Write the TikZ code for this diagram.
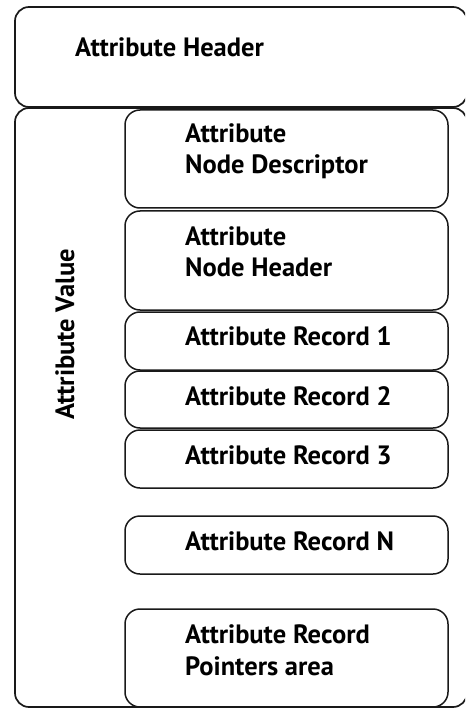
\documentclass[tikz,border=0pt]{standalone}
\usepackage{fontspec}
\setmainfont{PT Sans}
\begin{document}
\begin{tikzpicture}[x=1pt,y=-1pt,
  frame/.style={draw=black!90, line width=1.7pt, rounded corners=14pt},
  cell/.style={draw=black!90, line width=1.5pt, rounded corners=15pt},
  lbl/.style={font=\bfseries\fontsize{26.5}{31.5}\selectfont, inner sep=0pt, anchor=base west, align=left}]
\useasboundingbox (0,0) rectangle (465,708);
\clip (0,0) rectangle (465,708);

% outer frames
\draw[frame] (15,7) rectangle (467,107);
\draw[frame] (15,108) rectangle (467,707);

% inner cells
\draw[cell] (125,110) rectangle (448,208);
\draw[cell] (125,211) rectangle (448,310);
\draw[cell] (125,312) rectangle (448,370);
\draw[cell] (125,371) rectangle (448,428);
\draw[cell] (125,430) rectangle (448,488);
\draw[cell] (125,516) rectangle (448,574);
\draw[cell] (125,609) rectangle (448,707);

% labels (two-line labels are placed by the baseline of their last line)
\node[lbl] (hdr) at (75,57) {Attribute Header};
\node[lbl, rotate=90] (val) at (74,420) {Attribute Value};
\node[lbl] (desc) at (185,174) {Attribute\\Node Descriptor};
\node[lbl] (nhdr) at (185,276.5) {Attribute\\Node Header};
\node[lbl] (r1) at (185,345.5) {Attribute Record 1};
\node[lbl] (r2) at (185,405) {Attribute Record 2};
\node[lbl] (r3) at (185,464) {Attribute Record 3};
\node[lbl] (rn) at (185,550) {Attribute Record N};
\node[lbl] (ptr) at (185,675) {Attribute Record\\Pointers area};
\end{tikzpicture}
\end{document}
